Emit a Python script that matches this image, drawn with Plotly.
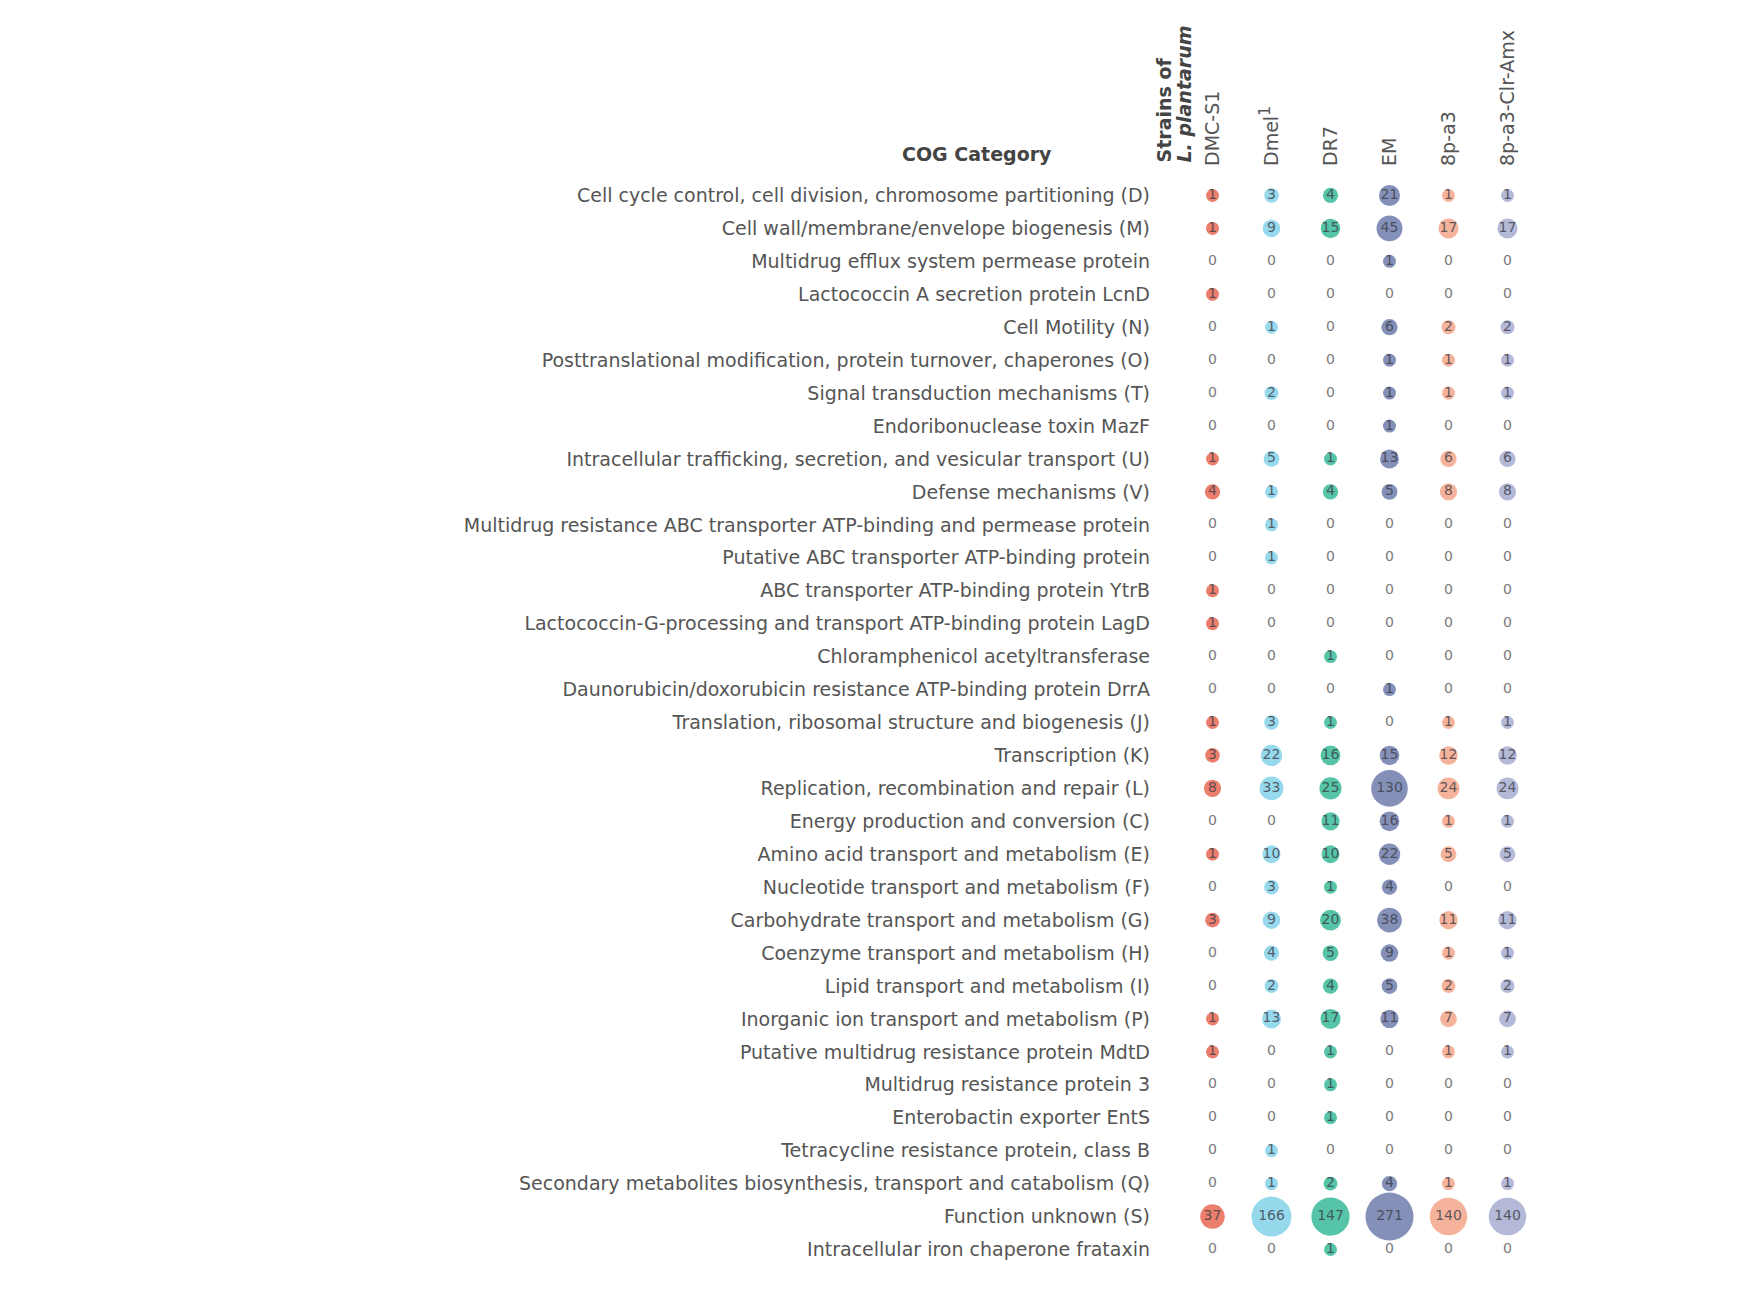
import plotly.graph_objects as go

categories = [
    "Cell cycle control, cell division, chromosome partitioning (D)",
    "Cell wall/membrane/envelope biogenesis (M)",
    "Multidrug efflux system permease protein",
    "Lactococcin A secretion protein LcnD",
    "Cell Motility (N)",
    "Posttranslational modification, protein turnover, chaperones (O)",
    "Signal transduction mechanisms (T)",
    "Endoribonuclease toxin MazF",
    "Intracellular trafficking, secretion, and vesicular transport (U)",
    "Defense mechanisms (V)",
    "Multidrug resistance ABC transporter ATP-binding and permease protein",
    "Putative ABC transporter ATP-binding protein",
    "ABC transporter ATP-binding protein YtrB",
    "Lactococcin-G-processing and transport ATP-binding protein LagD",
    "Chloramphenicol acetyltransferase",
    "Daunorubicin/doxorubicin resistance ATP-binding protein DrrA",
    "Translation, ribosomal structure and biogenesis (J)",
    "Transcription (K)",
    "Replication, recombination and repair (L)",
    "Energy production and conversion (C)",
    "Amino acid transport and metabolism (E)",
    "Nucleotide transport and metabolism (F)",
    "Carbohydrate transport and metabolism (G)",
    "Coenzyme transport and metabolism (H)",
    "Lipid transport and metabolism (I)",
    "Inorganic ion transport and metabolism (P)",
    "Putative multidrug resistance protein MdtD",
    "Multidrug resistance protein 3",
    "Enterobactin exporter EntS",
    "Tetracycline resistance protein, class B",
    "Secondary metabolites biosynthesis, transport and catabolism (Q)",
    "Function unknown (S)",
    "Intracellular iron chaperone frataxin",
]

strains = ["DMC-S1", "Dmel<sup><span style='font-size:16px'>1</span></sup>", "DR7",
           "EM", "8p-a3", "8p-a3-Clr-Amx"]

dmc_s1 = [1, 1, 0, 1, 0, 0, 0, 0, 1, 4, 0, 0, 1, 1, 0, 0, 1, 3, 8, 0, 1, 0, 3, 0, 0, 1, 1, 0, 0, 0, 0, 37, 0]
dmel1 = [3, 9, 0, 0, 1, 0, 2, 0, 5, 1, 1, 1, 0, 0, 0, 0, 3, 22, 33, 0, 10, 3, 9, 4, 2, 13, 0, 0, 0, 1, 1, 166, 0]
dr7 = [4, 15, 0, 0, 0, 0, 0, 0, 1, 4, 0, 0, 0, 0, 1, 0, 1, 16, 25, 11, 10, 1, 20, 5, 4, 17, 1, 1, 1, 0, 2, 147, 1]
em = [21, 45, 1, 0, 6, 1, 1, 1, 13, 5, 0, 0, 0, 0, 0, 1, 0, 15, 130, 16, 22, 4, 38, 9, 5, 11, 0, 0, 0, 0, 4, 271, 0]
p8_a3 = [1, 17, 0, 0, 2, 1, 1, 0, 6, 8, 0, 0, 0, 0, 0, 0, 1, 12, 24, 1, 5, 0, 11, 1, 2, 7, 1, 0, 0, 0, 1, 140, 0]
p8_a3_clr_amx = [1, 17, 0, 0, 2, 1, 1, 0, 6, 8, 0, 0, 0, 0, 0, 0, 1, 12, 24, 1, 5, 0, 11, 1, 2, 7, 1, 0, 0, 0, 1, 140, 0]

series = [dmc_s1, dmel1, dr7, em, p8_a3, p8_a3_clr_amx]
colors = ["#E9735F", "#8DD5EA", "#48C0A0", "#7A87B2", "#F5AD94", "#AEB3D4"]

W, H = 1741, 1296
ML, MR, MT, MB = 1175, 212, 171, 38

fig = go.Figure()
for name, vals, col in zip(strains, series, colors):
    ys = [c for c, v in zip(categories, vals) if v > 0]
    vs = [v for v in vals if v > 0]
    fig.add_trace(go.Scatter(
        x=[name] * len(vs), y=ys, mode="markers+text",
        text=[str(v) for v in vs], textposition="middle center",
        textfont=dict(family="DejaVu Sans", size=14, color="rgba(60,60,70,0.8)"),
        marker=dict(size=[10.7 + 2.27 * v ** 0.5 for v in vs], color=col,
                    opacity=0.92, line=dict(width=0)),
        showlegend=False, hoverinfo="skip", cliponaxis=False,
    ))
    yz = [c for c, v in zip(categories, vals) if v == 0]
    fig.add_trace(go.Scatter(
        x=[name] * len(yz), y=yz, mode="text", text=["0"] * len(yz),
        textposition="middle center",
        textfont=dict(family="DejaVu Sans", size=14, color="#7a7a7a"),
        showlegend=False, hoverinfo="skip", cliponaxis=False,
    ))

pw = W - ML - MR
ph = H - MT - MB

def px_x(p):
    return (p - ML) / pw

def px_y(p):
    return (H - MB - p) / ph

annotations = [
    dict(text="<b>COG Category</b>", xref="paper", yref="paper",
         x=px_x(1046), y=px_y(146), xanchor="right", yanchor="middle",
         showarrow=False, font=dict(family="DejaVu Sans", size=19, color="#444")),
    dict(text="<b>Strains of</b>", xref="paper", yref="paper",
         x=px_x(1155), y=px_y(157), xanchor="center", yanchor="bottom",
         textangle=-90, showarrow=False,
         font=dict(family="DejaVu Sans", size=19, color="#444")),
    dict(text="<b><i>L. plantarum</i></b>", xref="paper", yref="paper",
         x=px_x(1175), y=px_y(157), xanchor="center", yanchor="bottom",
         textangle=-90, showarrow=False,
         font=dict(family="DejaVu Sans", size=19, color="#444")),
]

fig.update_layout(
    width=W, height=H,
    margin=dict(l=ML, r=MR, t=MT, b=MB, autoexpand=False),
    paper_bgcolor="white", plot_bgcolor="white",
    font=dict(family="DejaVu Sans", color="#555"),
    annotations=annotations,
    xaxis=dict(side="top", type="category", categoryorder="array",
               categoryarray=strains, range=[-0.5, 5.5], tickangle=-90,
               showgrid=False, zeroline=False, showline=False, ticks="",
               ticklabelstandoff=12,
               tickfont=dict(family="DejaVu Sans", size=19, color="#555")),
    yaxis=dict(type="category", categoryorder="array", categoryarray=categories,
               range=[len(categories) - 0.5, -0.5], showgrid=False,
               zeroline=False, showline=False, ticks="", ticklabelstandoff=32,
               tickfont=dict(family="DejaVu Sans", size=19, color="#555")),
)

fig.write_html("out.html")
